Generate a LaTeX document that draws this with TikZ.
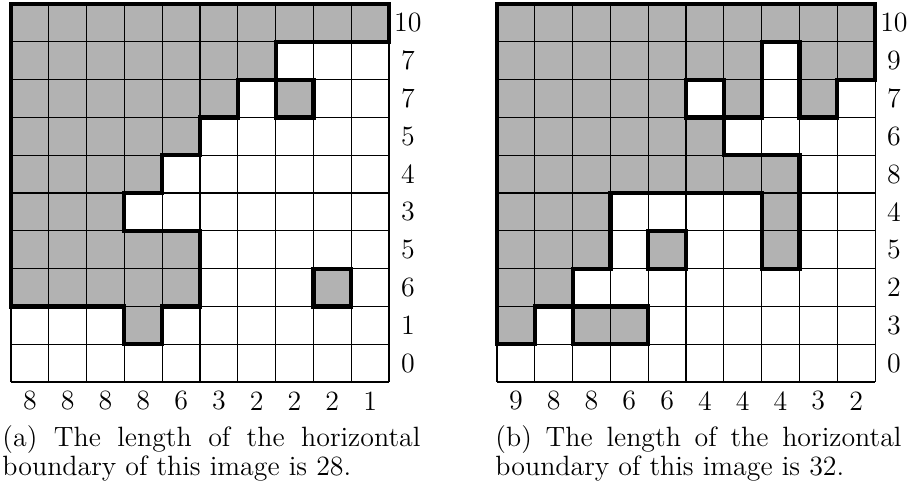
\documentclass[tikz,border=0pt]{standalone}
\begin{document}
\begin{tikzpicture}[x=0.43pt,y=-0.43pt,
  cellfill/.style={fill=black!30},
  holefill/.style={fill=white},
  gridline/.style={line width=0.45pt},
  bound/.style={line width=1.8pt, line join=miter},
  lab/.style={inner sep=0pt, font=\fontsize{12}{14}\selectfont},
  captext/.style={anchor=base west, inner sep=0pt, font=\fontsize{12}{12.2}\selectfont}]
\useasboundingbox (0,0) rectangle (911,491);
% ---------- panel (a) ----------
\begin{scope}[shift={(4.73pt,-1.72pt)}, x=16.254pt, y=-16.254pt]
  \fill[cellfill] (0,0) -- (10,0) -- (10,1) -- (7,1) -- (7,2) -- (6,2) -- (6,3) -- (5,3) -- (5,4) -- (4,4) -- (4,5) -- (3,5) -- (3,6) -- (5,6) -- (5,8) -- (4,8) -- (4,9) -- (3,9) -- (3,8) -- (0,8) -- cycle;
  \fill[cellfill] (7,2) rectangle (8,3);
  \fill[cellfill] (8,7) rectangle (9,8);
  \foreach \t in {0,...,10} {
    \draw[gridline] (\t,0) -- (\t,10);
    \draw[gridline] (0,\t) -- (10,\t);
  }
  \draw[bound] (0,0) -- (10,0) -- (10,1) -- (7,1) -- (7,2) -- (6,2) -- (6,3) -- (5,3) -- (5,4) -- (4,4) -- (4,5) -- (3,5) -- (3,6) -- (5,6) -- (5,8) -- (4,8) -- (4,9) -- (3,9) -- (3,8) -- (0,8) -- cycle;
  \draw[bound] (7,2) rectangle (8,3);
  \draw[bound] (8,7) rectangle (9,8);
  \foreach \v [count=\k from 0] in {10,7,7,5,4,3,5,6,1,0}
    \node[lab] (ar\k) at (10.5,\k+0.5) {\v};
  \foreach \v [count=\k from 0] in {8,8,8,8,6,3,2,2,2,1}
    \node[lab] (ac\k) at (\k+0.5,10.5) {\v};
\end{scope}
% ---------- panel (b) ----------
\begin{scope}[shift={(213.71pt,-1.72pt)}, x=16.254pt, y=-16.254pt]
  \fill[cellfill] (0,0) -- (10,0) -- (10,2) -- (9,2) -- (9,3) -- (8,3) -- (8,1) -- (7,1) -- (7,3) -- (6,3) -- (6,4) -- (8,4) -- (8,7) -- (7,7) -- (7,5) -- (3,5) -- (3,7) -- (2,7) -- (2,8) -- (1,8) -- (1,9) -- (0,9) -- cycle;
  \fill[holefill] (5,2) rectangle (6,3);
  \fill[cellfill] (4,6) rectangle (5,7);
  \fill[cellfill] (2,8) rectangle (4,9);
  \foreach \t in {0,...,10} {
    \draw[gridline] (\t,0) -- (\t,10);
    \draw[gridline] (0,\t) -- (10,\t);
  }
  \draw[bound] (0,0) -- (10,0) -- (10,2) -- (9,2) -- (9,3) -- (8,3) -- (8,1) -- (7,1) -- (7,3) -- (6,3) -- (6,4) -- (8,4) -- (8,7) -- (7,7) -- (7,5) -- (3,5) -- (3,7) -- (2,7) -- (2,8) -- (1,8) -- (1,9) -- (0,9) -- cycle;
  \draw[bound] (5,2) rectangle (6,3);
  \draw[bound] (4,6) rectangle (5,7);
  \draw[bound] (2,8) rectangle (4,9);
  \foreach \v [count=\k from 0] in {10,9,7,6,8,4,5,2,3,0}
    \node[lab] (br\k) at (10.5,\k+0.5) {\v};
  \foreach \v [count=\k from 0] in {9,8,8,6,6,4,4,4,3,2}
    \node[lab] (bc\k) at (\k+0.5,10.5) {\v};
\end{scope}
% ---------- captions ----------
\node[captext] (capa) at (2,446.7) {\parbox[t]{179.7pt}{(a) The length of the horizontal\linebreak boundary of this image is 28.}};
\node[captext] (capb) at (495,446.7) {\parbox[t]{174.6pt}{(b) The length of the horizontal\linebreak boundary of this image is 32.}};
\end{tikzpicture}
\end{document}
